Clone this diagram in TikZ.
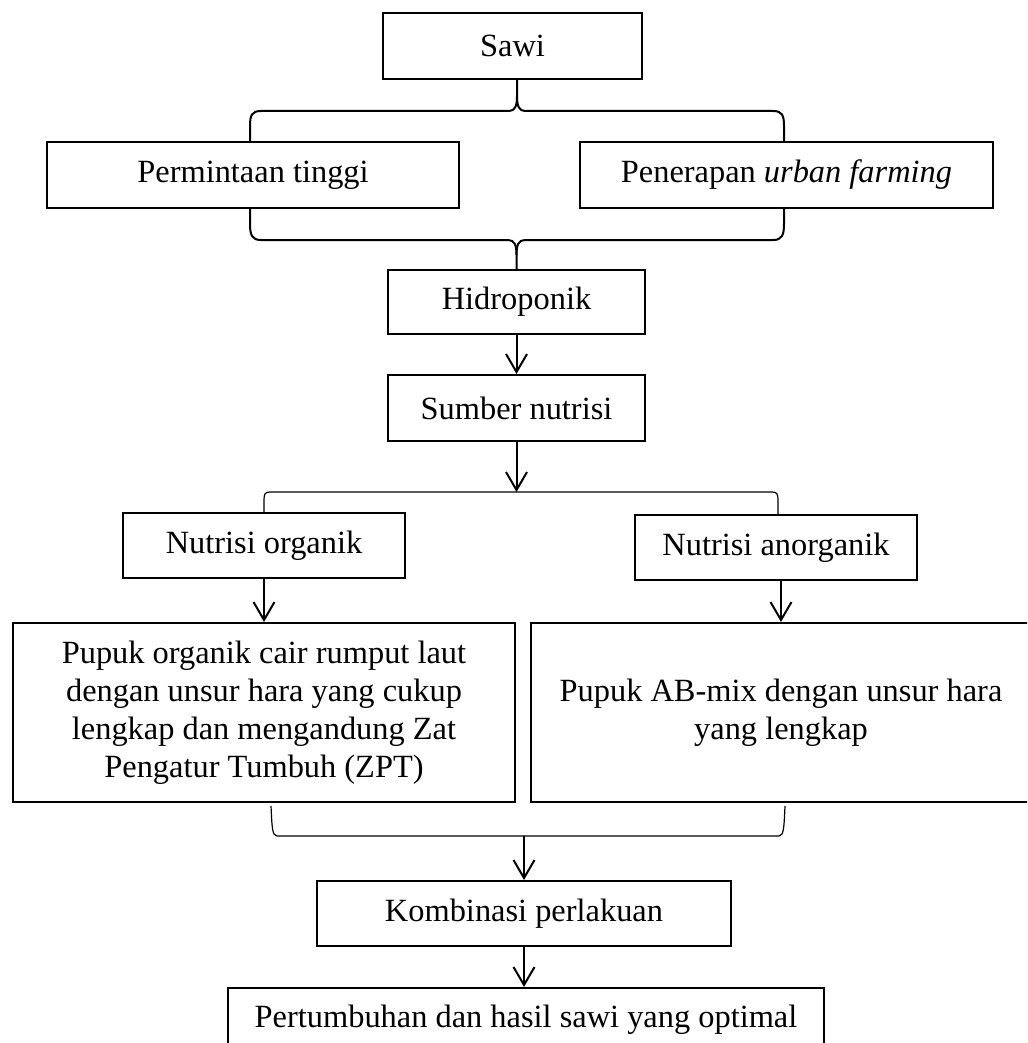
\documentclass[tikz,border=0pt]{standalone}
\usepackage{fontspec}
\setmainfont{Liberation Serif}
\usetikzlibrary{arrows.meta,calc}
\tikzset{
  box/.style={draw, line width=2pt, rectangle, inner sep=0pt, align=center,
    font=\fontsize{32.4}{38}\selectfont},
  arr/.style={line width=2pt, -{Straight Barb[length=18pt,width=21pt,line width=2pt]}},
  brace/.style={line width=2pt},
  thinbrace/.style={line width=1.2pt}
}
\begin{document}
\begin{tikzpicture}[x=1pt,y=-1pt]
\useasboundingbox (0,0) rectangle (1027,1043);
\clip (0,0) rectangle (1027,1043);
\fill[white] (0,0) rectangle (1027,1043);

\node[box, minimum width=259pt, minimum height=66pt] (sawi) at (512.5,46) {Sawi};
\node[box, minimum width=412pt, minimum height=66pt] (perm) at (253,175) {Permintaan tinggi};
\node[box, minimum width=413pt, minimum height=66pt] (pen) at (786.5,175) {Penerapan \textit{urban farming}};
\node[box, minimum width=257pt, minimum height=64pt] (hidro) at (516.5,302) {Hidroponik};
\node[box, minimum width=257pt, minimum height=66pt] (sumber) at (516.5,408) {Sumber nutrisi};
\node[box, minimum width=282pt, minimum height=65pt] (norg) at (264,545.5) {Nutrisi organik};
\node[box, minimum width=282pt, minimum height=65pt] (nanorg) at (776,547.5) {Nutrisi anorganik};
\node[box, minimum width=502pt, minimum height=179pt] (bigL) at (264,712.5)
  {Pupuk organik cair rumput laut\\dengan unsur hara yang cukup\\lengkap dan mengandung Zat\\Pengatur Tumbuh (ZPT)};
\node[box, minimum width=500pt, minimum height=179pt] (bigR) at (781,712.5)
  {Pupuk AB-mix dengan unsur hara\\yang lengkap};
\node[box, minimum width=414pt, minimum height=65pt] (komb) at (524,913.5) {Kombinasi perlakuan};
\node[box, minimum width=596pt, minimum height=64pt] (pert) at (526,1020) {Pertumbuhan dan hasil sawi yang optimal};

% top brace
\coordinate (tb) at (517,96);
\draw[brace] (250,142) -- (250,126) .. controls (250,115) and (252,111) .. (261,111)
  -- (509,111) .. controls (515,111) and (517,106) .. (tb) -- (sawi.south -| tb);
\draw[brace] (tb) .. controls (517,106) and (519,111) .. (525,111)
  -- (773,111) .. controls (782,111) and (784,115) .. (784,126) -- (784,142);

% bottom brace
\coordinate (bb) at (516.5,255);
\draw[brace] (250,208) -- (250,224) .. controls (250,235) and (252,240) .. (261,240)
  -- (508,240) .. controls (514.5,240) and (516.5,245) .. (bb) -- (hidro.north);
\draw[brace] (bb) .. controls (516.5,245) and (518.5,240) .. (525,240)
  -- (773,240) .. controls (782,240) and (784,235) .. (784,224) -- (784,208);

\draw[arr] (hidro.south) -- (sumber.north);

% middle bracket
\coordinate (mb) at (516.5,492);
\draw[thinbrace] (264,513) -- (264,500) .. controls (264,494) and (265,492) .. (270,492)
  -- (772,492) .. controls (777,492) and (778,494) .. (778,500) -- (778,515);
\draw[arr] (sumber.south) -- (mb);

\draw[arr] (norg.south) -- (norg.south |- bigL.north);
\draw[arr] (bigR.north |- nanorg.south) -- (bigR.north);

% bottom bracket
\coordinate (lb) at (524,836);
\draw[thinbrace] (271,806) .. controls (272,826) and (272,836) .. (277,836)
  -- (779,836) .. controls (784,836) and (784,826) .. (785,806);
\draw[arr] (lb) -- (komb.north);

\draw[arr] (komb.south) -- (komb.south |- pert.north);
\end{tikzpicture}
\end{document}
